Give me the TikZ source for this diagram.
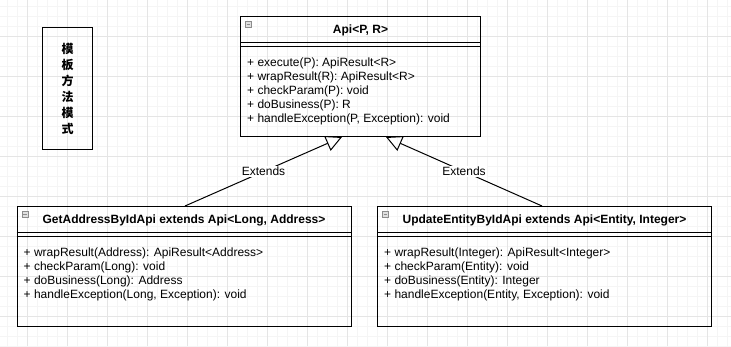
\documentclass[tikz,border=0pt]{standalone}
\usepackage{fontspec}
\setmainfont{Liberation Sans}
\newfontfamily\cjk{Noto Sans CJK SC}
\usetikzlibrary{positioning,arrows.meta,calc}

\begin{document}
\begin{tikzpicture}
[
    x=1pt, y=-1pt,
    every node/.style={font=\fontsize{12}{14}\selectfont, inner sep=0pt},
    classbox/.style={draw, line width=1pt, anchor=north west, minimum height=120pt},
    title/.style={font=\fontsize{12}{14}\selectfont\bfseries},
    method/.style={anchor=west, text height=9pt, text depth=3pt},
    fold/.style={draw=black!45, fill=black!12, line width=0.7pt, minimum size=6pt, anchor=north west,
        path picture={\draw[line width=0.9pt] ([xshift=1.3pt]path picture bounding box.west)
            -- ([xshift=-1.3pt]path picture bounding box.east);}},
    extends/.style={line width=1pt, -{Triangle[open, length=16pt, width=16pt]}},
    minor/.style={draw=black!4, line width=1pt},
    major/.style={draw=black!10, line width=1pt}
]
    \useasboundingbox (0,0) rectangle (731,346);

    % background grid
    \foreach \x in {7,17,...,727} \draw[minor] (\x,0) -- (\x,346);
    \foreach \y in {6,16,...,346} \draw[minor] (0,\y) -- (731,\y);
    \foreach \x in {27,67,...,707} \draw[major] (\x,0) -- (\x,346);
    \foreach \y in {36,76,...,316} \draw[major] (0,\y) -- (731,\y);

    % title box
    \node[draw, line width=1pt, anchor=north west, minimum width=50pt, minimum height=122pt] (pattern) at (42,27) {};
    \node[align=center, font=\cjk\bfseries\fontsize{12}{16}\selectfont] (pattern name) at (pattern.center)
        {模\\板\\方\\法\\模\\式};

    % abstract class
    \node[classbox, minimum width=240pt] (api) at (240,16) {};
    \node[fold] (api fold) at ([xshift=5pt, yshift=-5pt]api.north west) {};
    \node[title] (api title) at ([yshift=-14.5pt]api.north) {Api<P, R>};
    \draw[line width=1pt] ([yshift=-26pt]api.north west) -- ([yshift=-26pt]api.north east);
    \draw[line width=1pt] ([yshift=-30pt]api.north west) -- ([yshift=-30pt]api.north east);
    \foreach \m [count=\i] in {{+ execute(P): ApiResult<R>}, {+ wrapResult(R): ApiResult<R>},
        {+ checkParam(P): void}, {+ doBusiness(P): R}, {+ handleException(P, Exception): void}}
        \node[method] (api m\i) at ([xshift=7pt, yshift={-33pt-14pt*\i}]api.north west) {\m};

    % subclasses
    \node[classbox, minimum width=334pt] (getaddr) at (16.5,206) {};
    \node[fold] (getaddr fold) at ([xshift=5pt, yshift=-5pt]getaddr.north west) {};
    \node[title] (getaddr title) at ([yshift=-14.5pt]getaddr.north) {GetAddressByIdApi extends Api<Long, Address>};
    \draw[line width=1pt] ([yshift=-26pt]getaddr.north west) -- ([yshift=-26pt]getaddr.north east);
    \draw[line width=1pt] ([yshift=-30pt]getaddr.north west) -- ([yshift=-30pt]getaddr.north east);
    \foreach \m [count=\i] in {{+ wrapResult(Address): ApiResult<Address>}, {+ checkParam(Long): void},
        {+ doBusiness(Long): Address}, {+ handleException(Long, Exception): void}}
        \node[method] (getaddr m\i) at ([xshift=7pt, yshift={-33pt-14pt*\i}]getaddr.north west) {\m};

    \node[classbox, minimum width=334pt] (update) at (377,206) {};
    \node[fold] (update fold) at ([xshift=5pt, yshift=-5pt]update.north west) {};
    \node[title] (update title) at ([yshift=-14.5pt]update.north) {UpdateEntityByIdApi extends Api<Entity, Integer>};
    \draw[line width=1pt] ([yshift=-26pt]update.north west) -- ([yshift=-26pt]update.north east);
    \draw[line width=1pt] ([yshift=-30pt]update.north west) -- ([yshift=-30pt]update.north east);
    \foreach \m [count=\i] in {{+ wrapResult(Integer): ApiResult<Integer>}, {+ checkParam(Entity): void},
        {+ doBusiness(Entity): Integer}, {+ handleException(Entity, Exception): void}}
        \node[method] (update m\i) at ([xshift=7pt, yshift={-33pt-14pt*\i}]update.north west) {\m};

    % inheritance
    \coordinate (getaddr top) at ([xshift=168.5pt]getaddr.north west);
    \coordinate (update top) at ([xshift=165pt]update.north west);
    \coordinate (api left foot) at ([xshift=102pt]api.south west);
    \coordinate (api right foot) at ([xshift=146pt]api.south west);
    \draw[extends] (getaddr top) -- node[fill=white, inner sep=1pt] (ext left) {Extends} (api left foot);
    \draw[extends] (update top) -- node[fill=white, inner sep=1pt] (ext right) {Extends} (api right foot);
\end{tikzpicture}
\end{document}
